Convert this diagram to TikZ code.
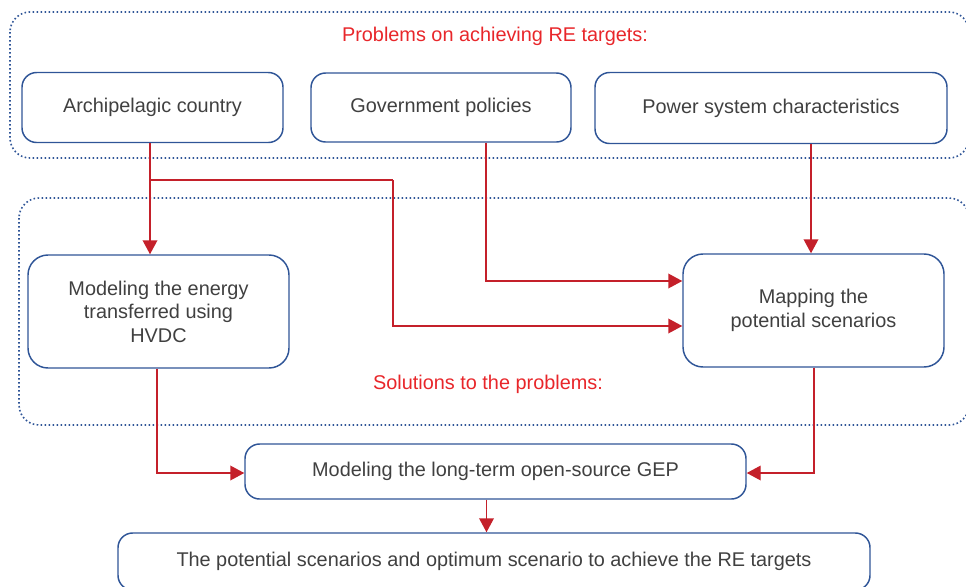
\documentclass[tikz,border=0pt]{standalone}
\usepackage{fontspec}
\setmainfont{Liberation Sans}
\usetikzlibrary{
  arrows.meta,
  calc,
  positioning,
}
\definecolor{boxblue}{RGB}{47,85,151}
\definecolor{flowred}{RGB}{196,32,42}
\definecolor{titlered}{RGB}{232,38,42}
\definecolor{txtgray}{RGB}{64,64,64}
\tikzset{
  >={Triangle[length=10.5pt,width=11pt]},
  box/.style={draw=boxblue, line width=1.1pt, rounded corners=11pt,
    text=txtgray, align=center, font=\fontsize{14.9}{17.6}\selectfont},
  frame/.style={draw=boxblue, line width=1.2pt, rounded corners=15pt,
    dash pattern=on 1.2pt off 1.8pt},
  flow/.style={draw=flowred, line width=1.1pt, ->},
  heading/.style={text=titlered, font=\fontsize{14.9}{17.6}\selectfont},
}

\begin{document}
\begin{tikzpicture}[x=0.75pt, y=-0.75pt]
  \useasboundingbox (0,0) rectangle (966,586);

  % dotted groups
  \draw[frame] (10,12) rectangle (969,158);
  \draw[frame] (19,198) rectangle (969,425);
  \node[heading] (problems) at (495,36) {Problems on achieving RE targets:};
  \node[heading] (solutions) at (488,384) {Solutions to the problems:};

  % problems
  \node[box, minimum width=195.75pt, minimum height=52.5pt] (arch) at (152.5,107.5) {Archipelagic country};
  \node[box, minimum width=195pt, minimum height=51.75pt] (gov) at (441,107.5) {Government policies};
  \node[box, minimum width=264pt, minimum height=53.25pt] (power) at (771,108) {Power system characteristics};

  % solutions
  \node[box, rounded corners=15pt, minimum width=195.75pt, minimum height=84.75pt] (hvdc) at (158.5,311.5)
    {Modeling the energy\\transferred using\\HVDC};
  \node[box, rounded corners=15pt, minimum width=195.75pt, minimum height=84.75pt] (map) at (813.5,310.5)
    {Mapping the\\potential scenarios};
  \node[box, minimum width=375.75pt, minimum height=41.25pt] (gep) at (495.5,471.5)
    {Modeling the long-term open-source GEP};
  \node[box, minimum width=564pt, minimum height=42.75pt] (final) at (494,561.5)
    {The potential scenarios and optimum scenario to achieve the RE targets};

  % connectors
  \coordinate (archout) at ($(arch.south)+(-2.5,0)$);
  \coordinate (split) at (archout |- 0,180);
  \coordinate (lane) at (393,180);
  \coordinate (govout) at ($(gov.south)+(45,0)$);
  \coordinate (powout) at ($(power.south)+(40,0)$);
  \coordinate (mapout) at ($(map.south)+(0.5,0)$);
  \coordinate (gepout) at ($(gep.south)+(-9,0)$);

  \draw[flow] (archout) -- (archout |- hvdc.north);
  \draw[flow, -] (split) -- (lane);
  \draw[flow] (lane) |- ($(map.west)+(0,15.5)$);
  \draw[flow] (govout) |- ($(map.west)+(0,-29.5)$);
  \draw[flow] (powout) -- (powout |- map.north);
  \draw[flow] ($(hvdc.south)+(-1.5,0)$) |- ($(gep.west)+(0,1.5)$);
  \draw[flow] (mapout) |- ($(gep.east)+(0,1.5)$);
  \draw[flow] (gepout) -- (gepout |- final.north);
\end{tikzpicture}
\end{document}
